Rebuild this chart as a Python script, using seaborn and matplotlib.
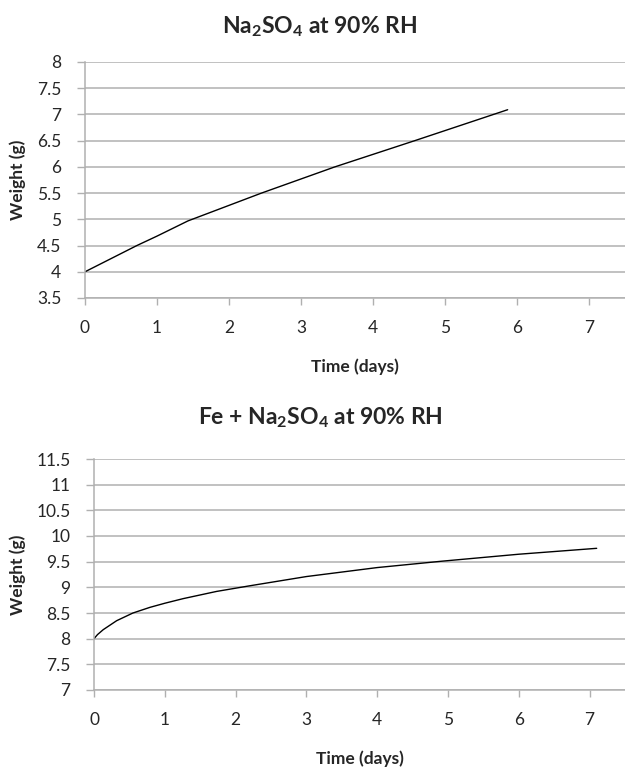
import matplotlib
matplotlib.use("Agg")
import matplotlib.pyplot as plt
import seaborn as sns
import pandas as pd

# ---- data ----
top_days = [0, 0.72, 1.0, 1.43, 2.45, 3.47, 4.58, 5.87]
top_weight = [4.0, 4.5, 4.68, 4.97, 5.5, 6.0, 6.5, 7.09]

bot_days = [0, 0.05, 0.13, 0.32, 0.55, 0.79, 1.0, 1.26, 1.73, 2.2, 3.0, 4.0, 4.92, 6.0, 7.1]
bot_weight = [8.0, 8.08, 8.175, 8.35, 8.5, 8.61, 8.69, 8.78, 8.92, 9.03, 9.21, 9.385, 9.51, 9.645, 9.76]

top_title = r"Na$_2$SO$_4$ at 90% RH"
bot_title = r"Fe + Na$_2$SO$_4$ at 90% RH"
x_ticks = [0, 1, 2, 3, 4, 5, 6, 7]
top_yticks = [3.5, 4, 4.5, 5, 5.5, 6, 6.5, 7, 7.5, 8]
bot_yticks = [7, 7.5, 8, 8.5, 9, 9.5, 10, 10.5, 11, 11.5]

sns.set_style("white")
plt.rcParams["font.family"] = ["Lato", "DejaVu Sans"]
plt.rcParams["mathtext.default"] = "regular"

W, H = 625, 767
fig = plt.figure(figsize=(W / 100, H / 100), dpi=100)

grid_c = "#b0b0b0"
tick_c = "#262626"


def fmt(v):
    return f"{v:g}"


def setup(ax, days, weight, yticks, title, title_y):
    df = pd.DataFrame({"Time": days, "Weight": weight})
    sns.lineplot(data=df, x="Time", y="Weight", ax=ax, color="black", lw=1.0,
                 estimator=None, sort=False)
    ax.set_xlim(0, 7.5)
    ax.set_ylim(yticks[0], yticks[-1])
    ax.set_xticks(x_ticks)
    ax.set_xticklabels([str(t) for t in x_ticks])
    ax.set_yticks(yticks)
    ax.set_yticklabels([fmt(t) for t in yticks])
    ax.grid(axis="y", color=grid_c, lw=1.1)
    ax.grid(axis="x", visible=False)
    for s in ["top", "right"]:
        ax.spines[s].set_visible(False)
    for s in ["left", "bottom"]:
        ax.spines[s].set_color(grid_c)
        ax.spines[s].set_linewidth(1.1)
    ax.tick_params(axis="x", direction="out", length=5, width=1, color=grid_c,
                   bottom=True, pad=11, labelsize=12.5, labelcolor=tick_c)
    ax.tick_params(axis="y", direction="out", length=6, width=1, color=grid_c,
                   left=True, pad=11, labelsize=12.5, labelcolor=tick_c)
    ax.set_xlabel("Time (days)", fontsize=12.5, fontweight="bold", labelpad=16)
    ax.set_ylabel("")
    fig.text(0.512, title_y, title, ha="center", va="center",
             fontsize=16.5, fontweight="bold")
    ax.set_axisbelow(True)


ax1 = fig.add_axes([85 / W, 1 - 298 / H, (W - 85) / W, (298 - 62) / H])
setup(ax1, top_days, top_weight, top_yticks, top_title, 1 - 27 / H)
fig.text(18 / W, 1 - 180 / H, "Weight (g)", rotation=90, ha="center",
         va="center", fontsize=12.5, fontweight="bold")

ax2 = fig.add_axes([94 / W, 1 - 690 / H, (W - 94) / W, (690 - 459) / H])
setup(ax2, bot_days, bot_weight, bot_yticks, bot_title, 1 - 418 / H)
fig.text(18 / W, 1 - 575 / H, "Weight (g)", rotation=90, ha="center",
         va="center", fontsize=12.5, fontweight="bold")

fig.savefig("out.png", dpi=100)
